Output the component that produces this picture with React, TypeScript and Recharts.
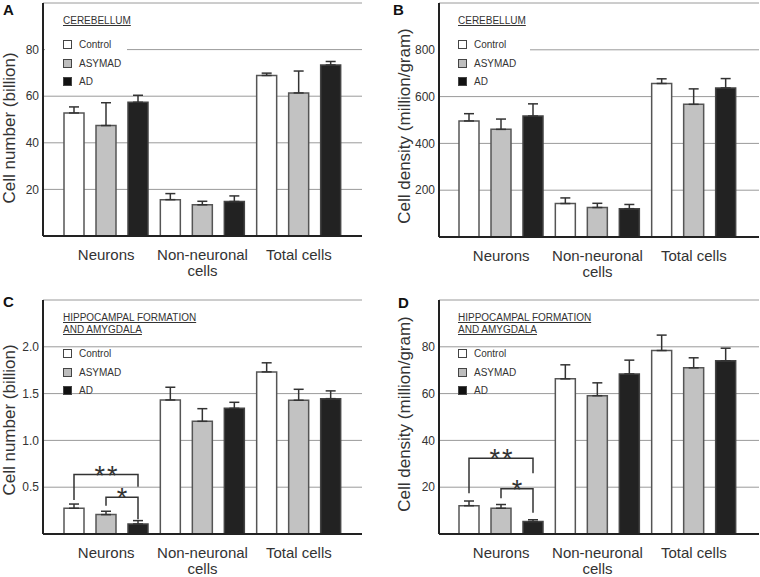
import React from 'react';
import { BarChart, Bar, XAxis, YAxis, CartesianGrid, ErrorBar, Rectangle } from 'recharts';

const FONT = "'Liberation Sans', Arial, Helvetica, sans-serif";

const categories = ['Neurons', 'Non-neuronal\ncells', 'Total cells'];
const groups = ['Control', 'ASYMAD', 'AD'];

// A: cerebellum, cell number (billion)
const cbNumControl = [52.8, 15.6, 68.9];
const cbNumControlErr = [2.6, 2.6, 1.0];
const cbNumAsymad = [47.4, 13.4, 61.4];
const cbNumAsymadErr = [9.8, 1.5, 9.4];
const cbNumAd = [57.4, 14.8, 73.4];
const cbNumAdErr = [3.0, 2.4, 1.5];

// B: cerebellum, cell density (million/gram)
const cbDenControl = [496, 143, 656];
const cbDenControlErr = [31, 24, 20];
const cbDenAsymad = [460, 126, 567];
const cbDenAsymadErr = [44, 18, 66];
const cbDenAd = [517, 121, 637];
const cbDenAdErr = [52, 18, 40];

// C: hippocampal formation and amygdala, cell number (billion)
const hfNumControl = [0.275, 1.432, 1.732];
const hfNumControlErr = [0.045, 0.136, 0.097];
const hfNumAsymad = [0.207, 1.204, 1.429];
const hfNumAsymadErr = [0.036, 0.135, 0.117];
const hfNumAd = [0.107, 1.343, 1.446];
const hfNumAdErr = [0.036, 0.064, 0.083];

// D: hippocampal formation and amygdala, cell density (million/gram)
const hfDenControl = [12.1, 66.3, 78.4];
const hfDenControlErr = [2.0, 6.0, 6.6];
const hfDenAsymad = [11.0, 59.1, 71.0];
const hfDenAsymadErr = [1.6, 5.5, 4.3];
const hfDenAd = [5.3, 68.4, 74.0];
const hfDenAdErr = [0.8, 5.9, 5.4];

const numTicks = [20, 40, 60, 80];
const denTicks = [200, 400, 600, 800];
const hfNumTicks = [0.5, 1.0, 1.5, 2.0];

// significance brackets, neurons group: [level, left foot, right foot]
const hfNumBrackets = [
  { from: 0, mark: '**', level: 0.635, leftFoot: 0.364, rightFoot: 0.506 },
  { from: 1, mark: '*', level: 0.393, leftFoot: 0.303, rightFoot: 0.157 },
];
const hfDenBrackets = [
  { from: 0, mark: '**', level: 32.4, leftFoot: 17.4, rightFoot: 26 },
  { from: 1, mark: '*', level: 19.3, leftFoot: 15.3, rightFoot: 9.1 },
];

const BAR = 20;
const GAP = 12;

type Bracket = { from: number; mark: string; level: number; leftFoot: number; rightFoot: number };

function buildRows(c: number[], ce: number[], s: number[], se: number[], a: number[], ae: number[]) {
  return categories.map((name, i) => ({
    name,
    control: c[i],
    controlErr: [0, ce[i]],
    asymad: s[i],
    asymadErr: [0, se[i]],
    ad: a[i],
    adErr: [0, ae[i]],
  }));
}

const CatTick = (props: any) => {
  const { x, y, payload } = props;
  const lines = String(payload.value).split('\n');
  return (
    <text x={x} y={y} textAnchor="middle" fontSize={15} fill="#333" fontFamily={FONT}>
      {lines.map((l, i) => (
        <tspan key={i} x={x} dy={i === 0 ? 22 : 16}>
          {l}
        </tspan>
      ))}
    </text>
  );
};

function adShape(brackets?: Bracket[]) {
  return (props: any) => {
    const { x, y, width, height, index, payload } = props;
    const rect = (
      <Rectangle x={x} y={y} width={width} height={height} fill="#222" stroke="#444" strokeWidth={1.5} />
    );
    if (!brackets || index !== 0) return rect;
    const per = height / payload.ad;
    const base = y + height;
    const toY = (u: number) => base - u * per;
    const right = x + width / 2;
    return (
      <g>
        {rect}
        {brackets.map((b, i) => {
          const left = right - (2 - b.from) * (BAR + GAP);
          const ly = toY(b.level);
          return (
            <g key={i}>
              <polyline
                points={`${left},${toY(b.leftFoot)} ${left},${ly} ${right},${ly} ${right},${toY(b.rightFoot)}`}
                fill="none"
                stroke="#333"
                strokeWidth={1.5}
              />
              <text
                x={(left + right) / 2 + 1}
                y={ly + 10}
                textAnchor="middle"
                fontSize={27}
                letterSpacing={2}
                fill="#333"
                fontFamily={FONT}
              >
                {b.mark}
              </text>
            </g>
          );
        })}
      </g>
    );
  };
}

type PanelProps = {
  left: number;
  top: number;
  height: number;
  data: any[];
  domain: [number, number];
  ticks: number[];
  fmt?: (v: number) => string;
  yLabel: string;
  yLabelX: number;
  yLabelY: number;
  yWidth: number;
  marginTop: number;
  marginRight: number;
  xHeight: number;
  pad: { left: number; right: number };
  brackets?: Bracket[];
};

function Panel(p: PanelProps) {
  const frame = { stroke: '#222', strokeWidth: 2 };
  return (
    <div style={{ position: 'absolute', left: p.left, top: p.top }}>
      <BarChart
        width={380}
        height={p.height}
        data={p.data}
        barGap={GAP}
        margin={{ top: p.marginTop, right: p.marginRight, left: 0, bottom: 0 }}
      >
        <CartesianGrid vertical={false} stroke="#9a9a9a" strokeWidth={1} />
        <XAxis
          dataKey="name"
          height={p.xHeight}
          padding={p.pad}
          tickLine={false}
          tickSize={0}
          axisLine={frame}
          interval={0}
          tick={<CatTick />}
        />
        <XAxis
          xAxisId="top"
          orientation="top"
          dataKey="name"
          height={0}
          padding={p.pad}
          tick={false}
          tickLine={false}
          axisLine={frame}
        />
        <YAxis
          width={p.yWidth}
          domain={p.domain}
          ticks={p.ticks}
          tickFormatter={p.fmt}
          tickLine={false}
          tickSize={0}
          tickMargin={4}
          axisLine={frame}
          tick={{ fontSize: 12, fill: '#333', fontFamily: FONT }}
          label={{
            content: () => (
              <text
                x={p.yLabelX}
                y={p.yLabelY}
                transform={`rotate(-90 ${p.yLabelX} ${p.yLabelY})`}
                textAnchor="middle"
                dominantBaseline="central"
                fontSize={17}
                fill="#333"
                fontFamily={FONT}
              >
                {p.yLabel}
              </text>
            ),
          }}
        />
        <YAxis yAxisId="right" orientation="right" width={0} tick={false} tickLine={false} axisLine={frame} />
        <Bar dataKey="control" barSize={BAR} fill="#ffffff" stroke="#555" strokeWidth={1.5} isAnimationActive={false}>
          <ErrorBar dataKey="controlErr" width={5} stroke="#333" strokeWidth={1.5} isAnimationActive={false} />
        </Bar>
        <Bar dataKey="asymad" barSize={BAR} fill="#c2c2c2" stroke="#555" strokeWidth={1.5} isAnimationActive={false}>
          <ErrorBar dataKey="asymadErr" width={5} stroke="#333" strokeWidth={1.5} isAnimationActive={false} />
        </Bar>
        <Bar dataKey="ad" barSize={BAR} fill="#222" shape={adShape(p.brackets)} isAnimationActive={false}>
          <ErrorBar dataKey="adErr" width={5} stroke="#333" strokeWidth={1.5} isAnimationActive={false} />
        </Bar>
      </BarChart>
    </div>
  );
}

const swatchFill = ['#ffffff', '#bdbdbd', '#111111'];

function LegendBox(props: { left: number; top: number; title: string[]; itemTop: number; clearWidth?: number }) {
  const { left, top, title, itemTop, clearWidth } = props;
  const rows = [0, 18.5, 36.5];
  return (
    <>
      {clearWidth ? (
        <div style={{ position: 'absolute', left: left - 18, top: itemTop - 8, width: clearWidth, height: 22, background: '#fff' }} />
      ) : null}
      {title.map((t, i) => (
        <div
          key={t}
          style={{
            position: 'absolute',
            left,
            top: top + i * 11.5,
            fontSize: 10,
            lineHeight: '11px',
            color: '#333',
            textDecoration: 'underline',
            whiteSpace: 'nowrap',
          }}
        >
          {t}
        </div>
      ))}
      {groups.map((g, i) => (
        <React.Fragment key={g}>
          <div
            style={{
              position: 'absolute',
              left,
              top: itemTop + rows[i],
              width: 7,
              height: 7,
              border: '1px solid #444',
              background: swatchFill[i],
            }}
          />
          <div
            style={{
              position: 'absolute',
              left: left + 16,
              top: itemTop + rows[i] - 1,
              fontSize: 10,
              lineHeight: '11px',
              color: '#333',
              whiteSpace: 'nowrap',
            }}
          >
            {g}
          </div>
        </React.Fragment>
      ))}
    </>
  );
}

const letterStyle = (left: number, top: number): React.CSSProperties => ({
  position: 'absolute',
  left,
  top,
  fontSize: 15,
  fontWeight: 'bold',
  color: '#111',
  lineHeight: '15px',
});

export default function App() {
  const dataA = buildRows(cbNumControl, cbNumControlErr, cbNumAsymad, cbNumAsymadErr, cbNumAd, cbNumAdErr);
  const dataB = buildRows(cbDenControl, cbDenControlErr, cbDenAsymad, cbDenAsymadErr, cbDenAd, cbDenAdErr);
  const dataC = buildRows(hfNumControl, hfNumControlErr, hfNumAsymad, hfNumAsymadErr, hfNumAd, hfNumAdErr);
  const dataD = buildRows(hfDenControl, hfDenControlErr, hfDenAsymad, hfDenAsymadErr, hfDenAd, hfDenAdErr);

  return (
    <div
      style={{
        position: 'absolute',
        left: 0,
        top: 0,
        width: 760,
        height: 577,
        background: '#fff',
        fontFamily: FONT,
        overflow: 'hidden',
      }}
    >
      <Panel
        left={0}
        top={0}
        height={290}
        data={dataA}
        domain={[0, 100]}
        ticks={numTicks}
        yLabel="Cell number (billion)"
        yLabelX={9}
        yLabelY={128}
        yWidth={43}
        marginTop={3}
        marginRight={18}
        xHeight={54}
        pad={{ left: 15, right: 15 }}
      />
      <Panel
        left={380}
        top={0}
        height={290}
        data={dataB}
        domain={[0, 1000]}
        ticks={denTicks}
        yLabel="Cell density (million/gram)"
        yLabelX={24}
        yLabelY={126}
        yWidth={59}
        marginTop={3}
        marginRight={1}
        xHeight={53}
        pad={{ left: 14, right: 17 }}
      />
      <Panel
        left={0}
        top={290}
        height={287}
        data={dataC}
        domain={[0, 2.5]}
        ticks={hfNumTicks}
        fmt={(v) => v.toFixed(1)}
        yLabel="Cell number (billion)"
        yLabelX={9}
        yLabelY={130}
        yWidth={43}
        marginTop={10}
        marginRight={18}
        xHeight={43}
        pad={{ left: 15, right: 15 }}
        brackets={hfNumBrackets}
      />
      <Panel
        left={380}
        top={290}
        height={287}
        data={dataD}
        domain={[0, 100]}
        ticks={numTicks}
        yLabel="Cell density (million/gram)"
        yLabelX={24}
        yLabelY={124}
        yWidth={59}
        marginTop={10}
        marginRight={1}
        xHeight={43}
        pad={{ left: 14, right: 17 }}
        brackets={hfDenBrackets}
      />

      <LegendBox left={63} top={15} title={['CEREBELLUM']} itemTop={40} clearWidth={127 - 45} />
      <LegendBox left={458} top={15} title={['CEREBELLUM']} itemTop={40} clearWidth={530 - 440} />
      <LegendBox left={63} top={312} title={['HIPPOCAMPAL FORMATION', 'AND AMYGDALA']} itemTop={349} />
      <LegendBox left={458} top={312} title={['HIPPOCAMPAL FORMATION', 'AND AMYGDALA']} itemTop={349} />

      <div style={letterStyle(3, 2)}>A</div>
      <div style={letterStyle(393, 2)}>B</div>
      <div style={letterStyle(3, 294)}>C</div>
      <div style={letterStyle(398, 295)}>D</div>
    </div>
  );
}
